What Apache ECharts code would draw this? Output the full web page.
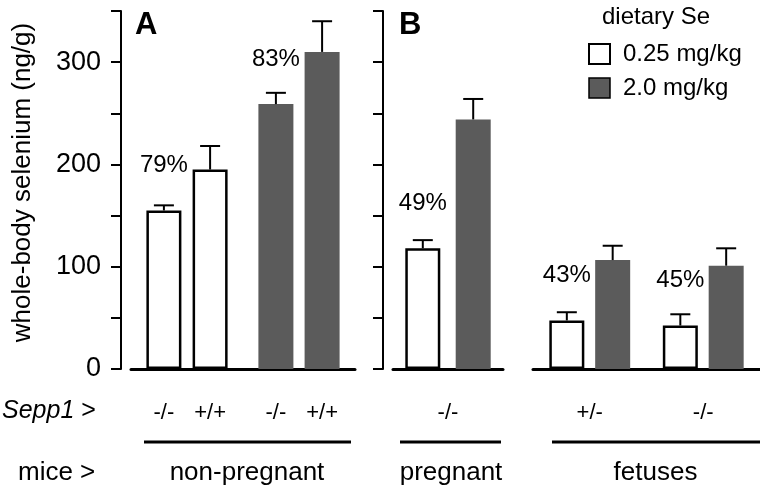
<!DOCTYPE html>
<html>
<head>
<meta charset="utf-8">
<script src="https://cdn.jsdelivr.net/npm/echarts@6/dist/echarts.min.js"></script>
<style>
html,body{margin:0;padding:0;background:#fff;}
#chart{width:760px;height:492px;}
</style>
</head>
<body>
<div id="chart"></div>
<script>
// ---- data ----
const dietLevels = ['0.25 mg/kg', '2.0 mg/kg'];
const groupNames = ['non-pregnant', 'pregnant', 'fetuses'];
const yTicks = [0, 100, 200, 300];

// Panel A: non-pregnant, grouped by diet; genotype within group
const nonPregGenotypes = ['-/-', '+/+'];
const nonPregKO = [155, 259];
const nonPregKOErr = [5, 11];
const nonPregWT = [195, 310];
const nonPregWTErr = [23, 30];
const nonPregPct = ['79%', '83%'];

// Panel B: pregnant dams
const pregGenotypes = ['-/-'];
const pregLow = [118];
const pregLowErr = [8];
const pregHigh = [244];
const pregHighErr = [20];
const pregPct = ['49%'];

// Panel B: fetuses
const fetusGenotypes = ['+/-', '-/-'];
const fetusLow = [47.5, 42.5];
const fetusLowErr = [8, 11];
const fetusHigh = [106.5, 101];
const fetusHighErr = [14, 17];
const fetusPct = ['43%', '45%'];

// ---- styles ----
const FONT = '"Liberation Sans", Arial, Helvetica, sans-serif';
const GREY = '#5b5b5b';
const BAR_W = 35;
const whiteStyle = {color: '#ffffff', borderColor: '#000000', borderWidth: 2.5};
const greyStyle = {color: GREY, borderWidth: 0};
const dietStyles = [whiteStyle, greyStyle];

function errSeries(axisIdx, values, errs, slot, gapRatio, pcts) {
  return {
    type: 'custom',
    xAxisIndex: axisIdx,
    yAxisIndex: axisIdx,
    silent: true,
    z: 5,
    data: values.map((v, i) => [i, v, errs[i]]),
    renderItem: function (params, api) {
      const base = api.coord([api.value(0), api.value(1)]);
      const top = api.coord([api.value(0), api.value(1) + api.value(2)]);
      const x = base[0] + slot * BAR_W * (1 + gapRatio) / 2;
      const children = [
        {type: 'line', shape: {x1: x, y1: base[1], x2: x, y2: top[1]}, style: {stroke: '#000', lineWidth: 2}},
        {type: 'line', shape: {x1: x - 10, y1: top[1], x2: x + 10, y2: top[1]}, style: {stroke: '#000', lineWidth: 2}}
      ];
      if (pcts && pcts[params.dataIndex]) {
        children.push({
          type: 'text',
          x: x,
          y: base[1] - 45,
          style: {text: pcts[params.dataIndex], fontSize: 24, fontFamily: FONT, fill: '#000',
                  align: 'center', verticalAlign: 'middle', textAlign: 'center', textVerticalAlign: 'middle'}
        });
      }
      return {type: 'group', children: children};
    }
  };
}

const labelText = {color: '#000', fontFamily: FONT};

const yAxisCommon = {
  type: 'value', min: 0, max: 350, interval: 50,
  splitLine: {show: false},
  axisLine: {show: true, lineStyle: {color: '#000', width: 2}},
  axisTick: {show: true, length: 10, lineStyle: {color: '#000', width: 2}}
};

const xAxisCommon = {
  type: 'category',
  axisLine: {show: true, onZero: false, lineStyle: {color: '#000', width: 3}},
  axisTick: {show: false},
  nameLocation: 'middle',
  nameGap: 91,
  nameTextStyle: {fontSize: 26, fontFamily: FONT, color: '#000'}
};

const chart = echarts.init(document.getElementById('chart'), null, {renderer: 'canvas'});
const option = {
  animation: false,
  backgroundColor: '#ffffff',
  title: [
    {text: 'A', left: 130, top: 5, textStyle: {fontSize: 31, fontWeight: 'bold', fontFamily: FONT, color: '#000'}},
    {text: 'B', left: 394, top: 5, textStyle: {fontSize: 31, fontWeight: 'bold', fontFamily: FONT, color: '#000'}},
    {text: 'dietary Se', left: 597, top: 0, textStyle: {fontSize: 24, fontWeight: 'normal', fontFamily: FONT, color: '#000'}}
  ],
  legend: {
    orient: 'vertical', left: 583, top: 37,
    itemWidth: 21, itemHeight: 20, itemGap: 10,
    selectedMode: false,
    icon: 'rect',
    textStyle: {fontSize: 24, fontFamily: FONT, color: '#000', lineHeight: 20, padding: [0, 0, 0, 8]},
    data: [
      {name: dietLevels[0], itemStyle: {color: '#fff', borderColor: '#000', borderWidth: 2}},
      {name: dietLevels[1], itemStyle: {color: GREY, borderColor: '#000', borderWidth: 1.5}}
    ]
  },
  grid: [
    {left: 131, top: 11, width: 224, height: 358},
    {left: 393, top: 11, width: 110, height: 358},
    {left: 533, top: 11, width: 227, height: 358}
  ],
  xAxis: [
    Object.assign({}, xAxisCommon, {gridIndex: 0, data: dietLevels, axisLabel: {show: false}, name: groupNames[0],
      nameTextStyle: {fontSize: 26, fontFamily: FONT, color: '#000', padding: [0, 0, 0, 8]}}),
    Object.assign({}, xAxisCommon, {gridIndex: 1, data: pregGenotypes, name: groupNames[1],
      axisLabel: Object.assign({margin: 33, fontSize: 22}, labelText),
      nameTextStyle: {fontSize: 26, fontFamily: FONT, color: '#000', padding: [0, 0, 0, 6]}}),
    Object.assign({}, xAxisCommon, {gridIndex: 2, data: fetusGenotypes, name: groupNames[2],
      axisLabel: Object.assign({margin: 33, fontSize: 22}, labelText),
      nameTextStyle: {fontSize: 26, fontFamily: FONT, color: '#000', padding: [0, 0, 0, 18]}})
  ],
  yAxis: [
    Object.assign({}, yAxisCommon, {gridIndex: 0, offset: 10,
      axisLabel: Object.assign({fontSize: 27, margin: 20, formatter: v => (yTicks.indexOf(v) >= 0 ? String(v) : '')}, labelText),
      name: 'whole-body selenium (ng/g)', nameLocation: 'middle', nameGap: 85,
      nameTextStyle: {fontSize: 26, fontFamily: FONT, color: '#000', padding: [0, 0, 0, 15]}}),
    Object.assign({}, yAxisCommon, {gridIndex: 1, offset: 10, axisLabel: {show: false}}),
    {gridIndex: 2, type: 'value', min: 0, max: 350, show: false, splitLine: {show: false}}
  ],
  series: [
    // Panel A
    {type: 'bar', name: 'Sepp1 -/- non-pregnant', xAxisIndex: 0, yAxisIndex: 0, barWidth: BAR_W, barGap: '32%',
      data: nonPregKO.map((v, i) => ({value: v, itemStyle: dietStyles[i]})),
      label: Object.assign({show: true, position: 'bottom', distance: 33, fontSize: 22, formatter: nonPregGenotypes[0]}, labelText)},
    {type: 'bar', name: 'Sepp1 +/+ non-pregnant', xAxisIndex: 0, yAxisIndex: 0, barWidth: BAR_W, barGap: '32%',
      data: nonPregWT.map((v, i) => ({value: v, itemStyle: dietStyles[i]})),
      label: Object.assign({show: true, position: 'bottom', distance: 33, fontSize: 22, formatter: nonPregGenotypes[1]}, labelText)},
    errSeries(0, nonPregKO, nonPregKOErr, -1, 0.32, nonPregPct),
    errSeries(0, nonPregWT, nonPregWTErr, 1, 0.32, null),
    // Panel B pregnant
    {type: 'bar', name: dietLevels[0], xAxisIndex: 1, yAxisIndex: 1, barWidth: BAR_W, barGap: '44%', itemStyle: whiteStyle, data: pregLow},
    {type: 'bar', name: dietLevels[1], xAxisIndex: 1, yAxisIndex: 1, barWidth: BAR_W, barGap: '44%', itemStyle: greyStyle, data: pregHigh},
    errSeries(1, pregLow, pregLowErr, -1, 0.44, pregPct),
    errSeries(1, pregHigh, pregHighErr, 1, 0.44, null),
    // Panel B fetuses
    {type: 'bar', name: dietLevels[0], xAxisIndex: 2, yAxisIndex: 2, barWidth: BAR_W, barGap: '31%', itemStyle: whiteStyle, data: fetusLow},
    {type: 'bar', name: dietLevels[1], xAxisIndex: 2, yAxisIndex: 2, barWidth: BAR_W, barGap: '31%', itemStyle: greyStyle, data: fetusHigh},
    errSeries(2, fetusLow, fetusLowErr, -1, 0.31, fetusPct),
    errSeries(2, fetusHigh, fetusHighErr, 1, 0.31, null)
  ],
  graphic: [
    {type: 'line', shape: {x1: 144, y1: 442, x2: 351, y2: 442}, style: {stroke: '#000', lineWidth: 3}},
    {type: 'line', shape: {x1: 400, y1: 442, x2: 501, y2: 442}, style: {stroke: '#000', lineWidth: 3}},
    {type: 'line', shape: {x1: 552, y1: 442, x2: 760, y2: 442}, style: {stroke: '#000', lineWidth: 3}},
    {type: 'text', x: 2, y: 411, style: {text: '{i|Sepp1} >', verticalAlign: 'middle', textVerticalAlign: 'middle',
      font: '25px ' + FONT, fill: '#000',
      rich: {i: {fontStyle: 'italic', fontSize: 25, fontFamily: FONT, fill: '#000', color: '#000'}}}},
    {type: 'text', x: 18, y: 473, style: {text: 'mice >', verticalAlign: 'middle', textVerticalAlign: 'middle',
      font: '26px ' + FONT, fill: '#000'}}
  ]
};
chart.setOption(option);
</script>
</body>
</html>
